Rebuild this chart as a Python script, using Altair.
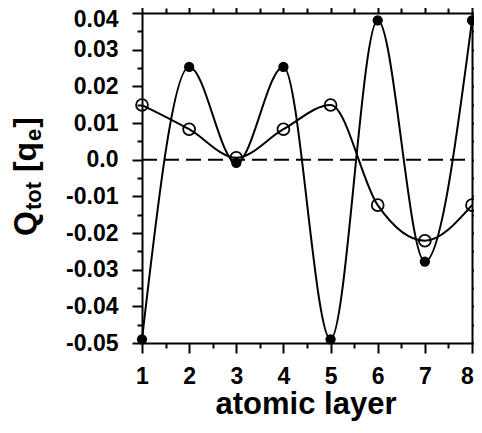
import altair as alt
import pandas as pd

layers = [1, 2, 3, 4, 5, 6, 7, 8]
filled_q = [-0.049, 0.0253, -0.0009, 0.0253, -0.049, 0.038, -0.0278, 0.038]
open_q = [0.0149, 0.0083, 0.0005, 0.0083, 0.0149, -0.0124, -0.0221, -0.0124]
x_ticks = [1, 1.5, 2, 2.5, 3, 3.5, 4, 4.5, 5, 5.5, 6, 6.5, 7, 7.5, 8]
y_ticks = [-0.05, -0.045, -0.04, -0.035, -0.03, -0.025, -0.02, -0.015, -0.01, -0.005,
           0.0, 0.005, 0.01, 0.015, 0.02, 0.025, 0.03, 0.035, 0.04]

df_f = pd.DataFrame({"layer": layers, "q": filled_q})
df_o = pd.DataFrame({"layer": layers, "q": open_q})
df_zero = pd.DataFrame({"q": [0.0]})

FONT = "Liberation Sans"
W, H = 330, 330

xscale = alt.Scale(domain=[1, 8], nice=False, zero=False)
yscale = alt.Scale(domain=[-0.05, 0.04], nice=False, zero=False)

major_x = "abs(datum.value - round(datum.value)) < 1e-6"
major_y = "abs(round(datum.value * 200)) % 2 == 0"

common_axis = dict(
    domainColor="black", domainWidth=2, tickColor="black", tickWidth=2,
    grid=False, labelFont=FONT, labelFontWeight="bold", labelFontSize=23,
    labelColor="black", labelOverlap=False, labelFlush=False, title=None,
)

x_bottom = alt.Axis(
    orient="bottom", values=x_ticks,
    tickSize={"condition": {"test": major_x, "value": 10}, "value": 5},
    labelExpr=f"{major_x} ? format(datum.value, 'd') : ''",
    labelOffset={"condition": {"test": "datum.value > 7.9", "value": -5}, "value": 0},
    labelPadding=12, **common_axis)
x_top = alt.Axis(
    orient="top", values=x_ticks,
    tickSize={"condition": {"test": major_x, "value": 10}, "value": 5},
    labels=False, **common_axis)
y_left = alt.Axis(
    orient="left", values=y_ticks,
    tickSize={"condition": {"test": major_y, "value": 10}, "value": 5},
    labelExpr=(f"{major_y} ? (abs(datum.value) < 1e-9 ? '0.0' : "
               "((datum.value < 0 ? '-' : '') + format(abs(datum.value), '.2f'))) : ''"),
    labelOffset={"condition": {"test": "datum.value > 0.039", "value": 6}, "value": 0},
    labelPadding=14, **common_axis)
y_right = alt.Axis(
    orient="right", values=y_ticks,
    tickSize={"condition": {"test": major_y, "value": 10}, "value": 5},
    labels=False, **common_axis)

zero_line = alt.Chart(df_zero).mark_rule(
    color="black", strokeWidth=2, strokeDash=[15, 7]
).encode(
    y=alt.Y("q:Q", scale=yscale, axis=None),
    x=alt.value(0), x2=alt.value(W),
)

line_f = alt.Chart(df_f).mark_line(
    interpolate="monotone", color="black", strokeWidth=2
).encode(
    x=alt.X("layer:Q", scale=xscale, axis=x_bottom),
    y=alt.Y("q:Q", scale=yscale, axis=y_left),
)
line_o = alt.Chart(df_o).mark_line(
    interpolate="monotone", color="black", strokeWidth=2
).encode(
    x=alt.X("layer:Q", scale=xscale, axis=x_top),
    y=alt.Y("q:Q", scale=yscale, axis=y_right),
)
pts_f = alt.Chart(df_f).mark_point(
    filled=True, color="black", size=105, opacity=1
).encode(
    x=alt.X("layer:Q", scale=xscale, axis=None),
    y=alt.Y("q:Q", scale=yscale, axis=None),
)
pts_o = alt.Chart(df_o).mark_point(
    filled=False, color="black", size=140, strokeWidth=1.8, opacity=1
).encode(
    x=alt.X("layer:Q", scale=xscale, axis=None),
    y=alt.Y("q:Q", scale=yscale, axis=None),
)


def label(text, x, y, size, angle=0, align="left"):
    return alt.Chart(alt.Data(values=[{}])).mark_text(
        text=text, font=FONT, fontWeight="bold", fontSize=size, color="black",
        angle=angle, align=align, baseline="alphabetic",
    ).encode(x=alt.value(x), y=alt.value(y))


# y title pieces: Q_tot [q_e] (rotated, reading upward)
MAIN, SUB = 32, 22
bx = -106
y0 = 223
pieces = []
pieces.append(label("Q", bx, y0, MAIN, angle=270))
y1 = y0 - 0.778 * MAIN - 1
pieces.append(label("tot", bx + 5, y1, SUB, angle=270))
y2 = y1 - 1.277 * SUB - 0.278 * MAIN - 1
pieces.append(label("[q", bx, y2, MAIN, angle=270))
y3 = y2 - (0.333 + 0.611) * MAIN - 1
pieces.append(label("e", bx + 5, y3, SUB, angle=270))
y4 = y3 - 0.556 * SUB - 1
pieces.append(label("]", bx, y4, MAIN, angle=270))

x_title = label("atomic layer", 164, 401, 31, align="center")

chart = alt.layer(
    zero_line, line_f, line_o, pts_f, pts_o, x_title, *pieces
).resolve_axis(
    x="independent", y="independent"
).properties(
    width=W, height=H,
    autosize=alt.AutoSizeParams(type="none"),
    padding={"left": 134, "top": 5, "right": 2, "bottom": 78},
).configure_view(stroke=None).configure(background="white")

chart.save("out.html", embed_options={"renderer": "svg", "actions": False})
